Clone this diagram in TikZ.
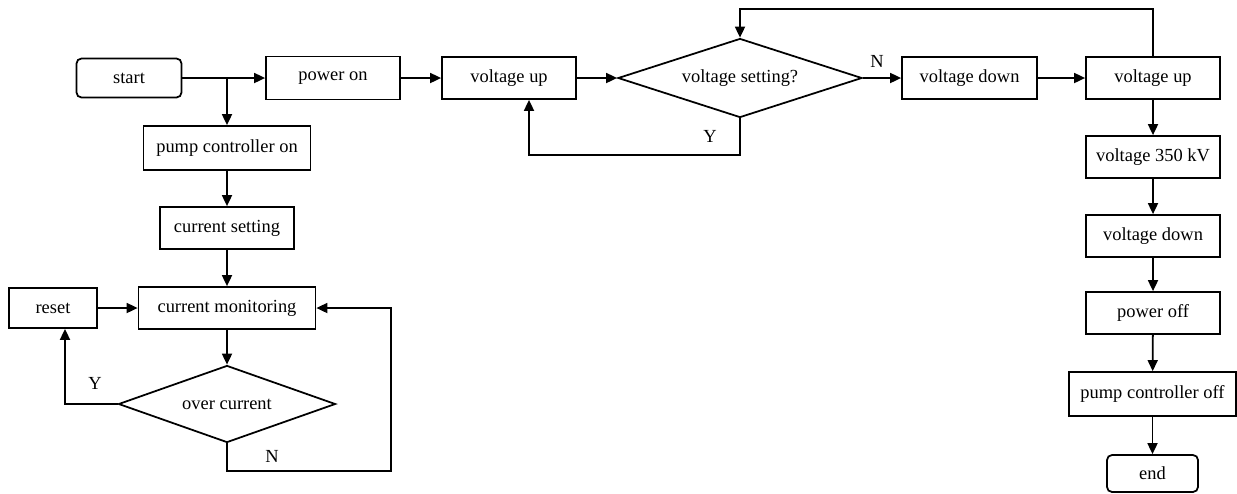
\documentclass[tikz,border=0pt]{standalone}
\usepackage{fontspec}
\setmainfont{Liberation Serif}
\usetikzlibrary{shapes.geometric,arrows.meta}

\tikzset{
  stepbox/.style={draw, line width=1pt, inner sep=1pt, minimum height=0.84cm,
    font=\fontsize{10.5}{12}\selectfont},
  termbox/.style={stepbox, rounded corners=0.1cm},
  decide/.style={draw, line width=1pt, diamond, aspect=3, inner sep=0pt,
    font=\fontsize{10.5}{12}\selectfont},
  arr/.style={line width=1pt, -{Triangle[length=2.2mm,width=2mm]}},
  lbl/.style={font=\fontsize{10.5}{12}\selectfont}
}

\begin{document}
\begin{tikzpicture}
% Keep the page the size of the reference
\useasboundingbox (0,0) rectangle (24.74,-9.86);

% Top row
\node[termbox, minimum width=2.1cm, minimum height=0.78cm] (start) at (2.58,-1.56) {start};
\node[stepbox, minimum width=2.68cm, minimum height=0.86cm] (pwron) at (6.66,-1.56) {power on};
\node[stepbox, minimum width=2.68cm] (vup1) at (10.18,-1.56) {voltage up};
\node[decide, minimum width=4.88cm, minimum height=1.58cm] (vset) at (14.80,-1.56) {voltage setting?};
\node[stepbox, minimum width=2.70cm] (vdown1) at (19.39,-1.56) {voltage down};
\node[stepbox, minimum width=2.68cm] (vup2) at (23.06,-1.56) {voltage up};

% Right column
\node[stepbox, minimum width=2.68cm] (v350) at (23.06,-3.14) {voltage 350 kV};
\node[stepbox, minimum width=2.68cm] (vdown2) at (23.06,-4.72) {voltage down};
\node[stepbox, minimum width=2.68cm] (pwroff) at (23.06,-6.26) {power off};
\node[stepbox, minimum width=3.34cm, minimum height=0.88cm] (pumpoff) at (23.05,-7.88) {pump controller off};
\node[termbox, minimum width=1.82cm, minimum height=0.74cm] (endn) at (23.05,-9.47) {end};

% Left column
\node[stepbox, minimum width=3.34cm, minimum height=0.88cm] (pumpon) at (4.54,-2.96) {pump controller on};
\node[stepbox, minimum width=2.68cm] (curset) at (4.54,-4.56) {current setting};
\node[stepbox, minimum width=3.54cm] (curmon) at (4.54,-6.16) {current monitoring};
\node[stepbox, minimum width=1.76cm, minimum height=0.80cm] (reset) at (1.06,-6.16) {reset};
\node[decide, minimum width=4.34cm, minimum height=1.54cm] (over) at (4.54,-8.08) {over current};

% Turning points of the loops
\coordinate (split) at (start.east -| pumpon.north);
\coordinate (nturn) at (7.82,-9.42);
\coordinate (yturn) at (10.58,-3.10);
\coordinate (fbturn) at (14.80,-0.18);

% Connectors along the top
\draw[arr] (start) -- (pwron);
\draw[arr] (pwron) -- (vup1);
\draw[arr] (vup1) -- (vset);
\draw[arr] (vset) -- (vdown1);
\draw[arr] (vdown1) -- (vup2);
\draw[arr] (vset.south) |- (yturn) -- (yturn |- vup1.south);
\draw[arr] (vup2.north) |- (fbturn) -- (vset.north);

% Connectors down the right
\draw[arr] (vup2) -- (v350);
\draw[arr] (v350) -- (vdown2);
\draw[arr] (vdown2) -- (pwroff);
\draw[arr] (pwroff) -- (pumpoff);
\draw[arr] (pumpoff) -- (endn);

% Connectors down the left
\draw[arr] (split) -- (pumpon.north);
\draw[arr] (pumpon) -- (curset);
\draw[arr] (curset) -- (curmon);
\draw[arr] (curmon) -- (over);
\draw[arr] (reset) -- (curmon);
\draw[arr] (over.west) -| ([xshift=0.24cm]reset.south);
\draw[arr] (over.south) |- (nturn) |- (curmon.east);

% Y and N labels
\node[lbl] (ylow) at (1.90,-7.66) {Y};
\node[lbl] (nlow) at (5.44,-9.12) {N};
\node[lbl] (ytop) at (14.20,-2.72) {Y};
\node[lbl] (ntop) at (17.54,-1.22) {N};
\end{tikzpicture}
\end{document}
